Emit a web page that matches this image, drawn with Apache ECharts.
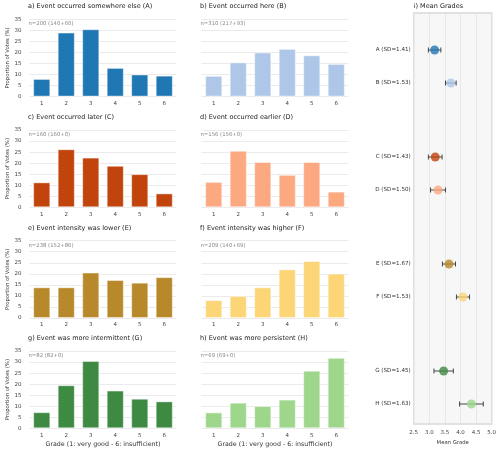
<!DOCTYPE html>
<html>
<head>
<meta charset="utf-8">
<script src="https://cdn.jsdelivr.net/npm/echarts@6/dist/echarts.min.js"></script>
<style>
  html, body { margin: 0; padding: 0; background: #fff; }
  #chart { width: 500px; height: 450px; }
</style>
</head>
<body>
<div id="chart"></div>
<script>
// grades on the x axis of every bar panel
var grades = ['1', '2', '3', '4', '5', '6'];
var yTicks = { min: 0, max: 35, interval: 5 };

var panelTitles = [
    'a) Event occurred somewhere else (A)',
    'b) Event occurred here (B)',
    'c) Event occurred later (C)',
    'd) Event occurred earlier (D)',
    'e) Event intensity was lower (E)',
    'f) Event intensity was higher (F)',
    'g) Event was more intermittent (G)',
    'h) Event was more persistent (H)'
];
var sampleNotes = [
    'n=200 (140+60)', 'n=310 (217+93)', 'n=160 (160+0)', 'n=156 (156+0)',
    'n=238 (152+86)', 'n=209 (140+69)', 'n=82 (82+0)', 'n=69 (69+0)'
];

// proportion of votes (%) per grade
var votesA = [8.0, 29.0, 30.5, 13.0, 10.0, 9.5];
var votesB = [9.4, 15.5, 20.0, 21.6, 18.7, 14.8];
var votesC = [11.3, 26.3, 22.5, 18.8, 15.0, 6.3];
var votesD = [11.5, 25.6, 20.5, 14.7, 20.5, 7.1];
var votesE = [13.9, 13.9, 20.6, 17.2, 16.0, 18.5];
var votesF = [8.1, 10.0, 13.9, 22.0, 25.8, 20.1];
var votesG = [7.3, 19.5, 30.5, 17.1, 13.4, 12.2];
var votesH = [7.2, 11.6, 10.1, 13.0, 26.1, 31.9];
var allVotes = [votesA, votesB, votesC, votesD, votesE, votesF, votesG, votesH];

// mean grades panel
var meanKeys = ['A', 'B', 'C', 'D', 'E', 'F', 'G', 'H'];
var meanGrades = [3.17, 3.69, 3.19, 3.28, 3.63, 4.08, 3.46, 4.35];
var gradeSD = ['1.41', '1.53', '1.43', '1.50', '1.67', '1.53', '1.45', '1.63'];
var ciHalf = [0.20, 0.17, 0.22, 0.24, 0.21, 0.21, 0.31, 0.38];
var meanAxis = { min: 2.5, max: 5.0, interval: 0.5 };

var colors = ['#1f77b4', '#aec7e8', '#c0440b', '#fca982',
              '#b8892a', '#fbd576', '#3f8a43', '#9ed78c'];

// layout
var font = 'DejaVu Sans';
var colLeft = [29.5, 201.5];
var plotW = 147;
var rowTop = [19.3, 130, 240.7, 351];
var plotH = 77.3;
var meanBox = { left: 413.7, top: 13, width: 78, height: 416 };
var pairTop = [33.5, 140.5, 247.5, 354.5];
var pairH = 66;

var grids = [], xAxes = [], yAxes = [], series = [], titles = [];

for (var i = 0; i < 8; i++) {
    var col = i % 2, row = Math.floor(i / 2);
    grids.push({ left: colLeft[col], top: rowTop[row], width: plotW, height: plotH });
    xAxes.push({
        gridIndex: i, type: 'category', data: grades,
        axisLine: { show: false }, axisTick: { show: false },
        axisLabel: { fontSize: 5.5, color: '#444', margin: 4, fontFamily: font },
        name: row === 3 ? 'Grade (1: very good - 6: insufficient)' : '',
        nameLocation: 'middle', nameGap: 13,
        nameTextStyle: { fontSize: 6.3, color: '#333', fontFamily: font }
    });
    yAxes.push({
        gridIndex: i, type: 'value', min: yTicks.min, max: yTicks.max, interval: yTicks.interval,
        axisLine: { show: false }, axisTick: { show: false },
        axisLabel: { show: col === 0, fontSize: 5.5, color: '#444', margin: 8, fontFamily: font },
        splitLine: { lineStyle: { color: '#e6e6e6', width: 0.8 } },
        name: col === 0 ? 'Proportion of Votes (%)' : '',
        nameLocation: 'middle', nameGap: 18, nameRotate: 90,
        nameTextStyle: { fontSize: 5.3, color: '#333', fontFamily: font }
    });
    series.push({
        type: 'bar', xAxisIndex: i, yAxisIndex: i, data: allVotes[i],
        barWidth: '70%',
        itemStyle: { color: colors[i], borderColor: 'rgba(255,255,255,0.45)', borderWidth: 1 },
        silent: true
    });
    titles.push({
        text: panelTitles[i], left: colLeft[col] - 1.5, top: rowTop[row] - 16, padding: 0,
        textStyle: { fontSize: 6.5, fontWeight: 'normal', color: '#222', fontFamily: font }
    });
    titles.push({
        text: sampleNotes[i], left: colLeft[col] - 1, top: rowTop[row] + 2, padding: 0,
        textStyle: { fontSize: 5.3, fontWeight: 'normal', color: '#888', fontFamily: font }
    });
}

// mean grade background panel
grids.push({
    left: meanBox.left, top: meanBox.top, width: meanBox.width, height: meanBox.height,
    show: true, backgroundColor: '#f7f7f7', borderColor: '#d9d9d9', borderWidth: 1.5
});
xAxes.push({
    gridIndex: 8, type: 'value', min: meanAxis.min, max: meanAxis.max, interval: meanAxis.interval,
    axisLine: { show: false }, axisTick: { show: false },
    axisLabel: { fontSize: 5.5, color: '#444', margin: 5, fontFamily: font,
                 formatter: function (v) { return v.toFixed(1); } },
    splitLine: { show: true, lineStyle: { color: '#e2e2e2', width: 0.8 } },
    name: 'Mean Grade', nameLocation: 'middle', nameGap: 14,
    nameTextStyle: { fontSize: 5.3, color: '#333', fontFamily: font }
});
yAxes.push({ gridIndex: 8, type: 'value', min: 0, max: 1, show: false });
titles.push({
    text: 'i) Mean Grades', left: meanBox.left, top: 3, padding: 0,
    textStyle: { fontSize: 6.5, fontWeight: 'normal', color: '#222', fontFamily: font }
});

function renderErrorBar(params, api) {
    var yi = api.value(1);
    var lo = api.coord([api.value(0) - api.value(2), yi]);
    var hi = api.coord([api.value(0) + api.value(2), yi]);
    var cap = 2.5;
    var style = { stroke: '#444', lineWidth: 1 };
    return {
        type: 'group',
        children: [
            { type: 'line', shape: { x1: lo[0], y1: lo[1], x2: hi[0], y2: hi[1] }, style: style },
            { type: 'line', shape: { x1: lo[0], y1: lo[1] - cap, x2: lo[0], y2: lo[1] + cap }, style: style },
            { type: 'line', shape: { x1: hi[0], y1: hi[1] - cap, x2: hi[0], y2: hi[1] + cap }, style: style }
        ]
    };
}

for (var p = 0; p < 4; p++) {
    var gi = 9 + p;
    var k0 = p * 2, k1 = p * 2 + 1;
    grids.push({ left: meanBox.left, top: pairTop[p], width: meanBox.width, height: pairH });
    xAxes.push({ gridIndex: gi, type: 'value', min: meanAxis.min, max: meanAxis.max, show: false });
    yAxes.push({
        gridIndex: gi, type: 'category', inverse: true,
        data: [meanKeys[k0] + ' (SD=' + gradeSD[k0] + ')', meanKeys[k1] + ' (SD=' + gradeSD[k1] + ')'],
        axisLine: { show: false }, axisTick: { show: false }, splitLine: { show: false },
        axisLabel: { fontSize: 5.6, color: '#333', margin: 3, fontFamily: font }
    });
    series.push({
        type: 'custom', xAxisIndex: gi, yAxisIndex: gi, renderItem: renderErrorBar,
        data: [[meanGrades[k0], 0, ciHalf[k0]], [meanGrades[k1], 1, ciHalf[k1]]],
        silent: true, z: 3
    });
    series.push({
        type: 'scatter', xAxisIndex: gi, yAxisIndex: gi, symbolSize: 9, z: 4,
        data: [
            { value: [meanGrades[k0], 0], itemStyle: { color: colors[k0] } },
            { value: [meanGrades[k1], 1], itemStyle: { color: colors[k1] } }
        ],
        silent: true
    });
}

var chart = echarts.init(document.getElementById('chart'), null, { renderer: 'canvas' });
chart.setOption({
    backgroundColor: '#fff',
    animation: false,
    textStyle: { fontFamily: font },
    title: titles,
    grid: grids,
    xAxis: xAxes,
    yAxis: yAxes,
    series: series
});
</script>
</body>
</html>
